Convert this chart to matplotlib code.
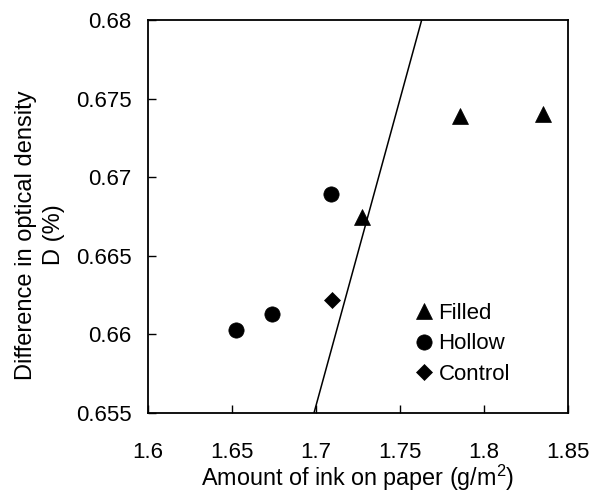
import matplotlib
matplotlib.use("Agg")
import matplotlib.pyplot as plt

plt.rcParams['font.family'] = ['Liberation Sans', 'DejaVu Sans']
plt.rcParams['mathtext.fontset'] = 'custom'
plt.rcParams['mathtext.rm'] = 'Liberation Sans'
plt.rcParams['mathtext.it'] = 'Liberation Sans:italic'
plt.rcParams['font.size'] = 16

# Data
filled_x = [1.7276, 1.7859, 1.8349]
filled_y = [0.6675, 0.6739, 0.6740]
hollow_x = [1.6522, 1.6738, 1.7089]
hollow_y = [0.6603, 0.6613, 0.6689]
control_x = [1.7095]
control_y = [0.6622]
line_x = [1.6988, 1.7629]
line_y = [0.655, 0.680]

xticks = [1.6, 1.65, 1.7, 1.75, 1.8, 1.85]
xtick_labels = ['1.6', '1.65', '1.7', '1.75', '1.8', '1.85']
yticks = [0.655, 0.66, 0.665, 0.67, 0.675, 0.68]
ytick_labels = ['0.655', '0.66', '0.665', '0.67', '0.675', '0.68']

fig = plt.figure(figsize=(5.93, 4.93), dpi=100)
ax = fig.add_axes([148/593, 1-413/493, 420/593, 393/493])

ax.plot(line_x, line_y, color='black', lw=1.1, zorder=2)
ax.plot(filled_x, filled_y, '^', color='black', ms=11.8, mew=0.5, ls='none', label='Filled', zorder=3)
ax.plot(hollow_x, hollow_y, 'o', color='black', ms=11.0, mew=0.5, ls='none', label='Hollow', zorder=3)
ax.plot(control_x, control_y, 'D', color='black', ms=8.4, mew=0.5, ls='none', label='Control', zorder=3)

ax.set_xlim(1.6, 1.85)
ax.set_ylim(0.655, 0.68)
ax.set_xticks(xticks)
ax.set_xticklabels(xtick_labels)
ax.set_yticks(yticks)
ax.set_yticklabels(ytick_labels)

for s in ax.spines.values():
    s.set_linewidth(1.3)
ax.tick_params(axis='both', direction='in', length=6, width=1.0)
ax.tick_params(axis='x', pad=21)
ax.tick_params(axis='y', pad=12)

ax.set_xlabel('Amount of ink on paper (g/m$^{2}$)', labelpad=0, fontsize=16.8)
ax.set_ylabel('Difference in optical density\nD (%)', linespacing=1.35, fontsize=17)
ax.yaxis.set_label_coords(-0.198, 0.453)

leg = ax.legend(loc='upper left', bbox_to_anchor=(0.631, 0.28), frameon=False,
                handlelength=1.0, handletextpad=0.15, labelspacing=0.42,
                borderpad=0, borderaxespad=0, markerscale=1.0)

fig.savefig('out.png', dpi=100)
